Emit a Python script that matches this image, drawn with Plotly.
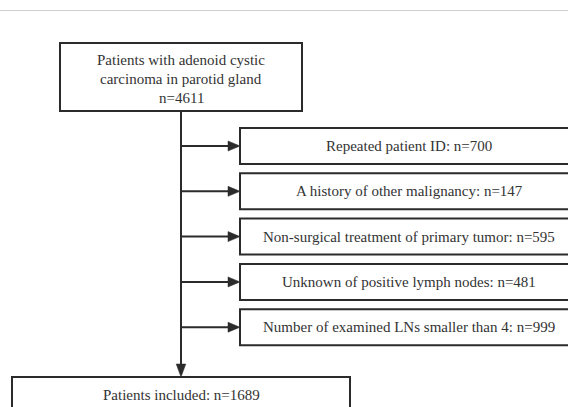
import plotly.graph_objects as go

W, H = 568, 407

top_lines = ["Patients with adenoid cystic", "carcinoma in parotid gland", "n=4611"]
excl_labels = [
    "Repeated patient ID",
    "A history of other malignancy",
    "Non-surgical treatment of primary tumor",
    "Unknown of positive lymph nodes",
    "Number of examined LNs smaller than 4",
]
excl_counts = [700, 147, 595, 481, 999]
final_label = "Patients included"
final_count = 1689

# layout constants (pixels)
TOP_BOX = (60, 43, 302, 111)
SPINE_X = 181
EX_X0, EX_X1 = 240, 578
EX_Y0, EX_H, EX_STEP = 128, 36, 45.3
FIN_BOX = (12, 377, 350, 440)
LINE_C = "#2b2b2b"
TXT_C = "#333333"
FONT = "Liberation Serif, Times New Roman, serif"
FS = 15

fig = go.Figure()
shapes = []
ann = []

def rect(x0, y0, x1, y1):
    shapes.append(dict(type="rect", xref="x", yref="y", x0=x0, y0=y0, x1=x1, y1=y1,
                       line=dict(color=LINE_C, width=2), fillcolor="rgba(0,0,0,0)"))

def line(x0, y0, x1, y1, color=LINE_C, width=2):
    shapes.append(dict(type="line", xref="x", yref="y", x0=x0, y0=y0, x1=x1, y1=y1,
                       line=dict(color=color, width=width)))

def tri_right(xtip, y, L=12, hw=5):
    shapes.append(dict(type="path", xref="x", yref="y",
                       path=f"M{xtip},{y} L{xtip-L},{y-hw} L{xtip-L},{y+hw} Z",
                       fillcolor=LINE_C, line=dict(color=LINE_C, width=0.5)))

def tri_down(x, ytip, L=13, hw=4.8):
    shapes.append(dict(type="path", xref="x", yref="y",
                       path=f"M{x},{ytip} L{x-hw},{ytip-L} L{x+hw},{ytip-L} Z",
                       fillcolor=LINE_C, line=dict(color=LINE_C, width=0.5)))

def text(x, y, s, size=FS):
    ann.append(dict(x=x, y=y, xref="x", yref="y", text=s, showarrow=False,
                    font=dict(family=FONT, size=size, color=TXT_C),
                    xanchor="center", yanchor="middle"))

# thin grey top rule
line(0, 10.5, W, 10.5, color="#cfcfcf", width=1)

# top box
rect(*TOP_BOX)
cx = (TOP_BOX[0] + TOP_BOX[2]) / 2
for i, s in enumerate(top_lines):
    text(cx, 60 + i * 19, s)

# spine
line(SPINE_X, TOP_BOX[3], SPINE_X, FIN_BOX[1] - 6)
tri_down(SPINE_X, FIN_BOX[1])

# exclusion boxes
for i, (lab, n) in enumerate(zip(excl_labels, excl_counts)):
    y0 = EX_Y0 + i * EX_STEP
    y1 = y0 + EX_H
    yc = (y0 + y1) / 2
    rect(EX_X0, y0, EX_X1, y1)
    line(SPINE_X, yc, EX_X0 - 8, yc)
    tri_right(EX_X0, yc)
    text((EX_X0 + EX_X1) / 2, yc, f"{lab}: n={n}")

# final box
rect(*FIN_BOX)
text((FIN_BOX[0] + FIN_BOX[2]) / 2, 395, f"{final_label}: n={final_count}")

fig.update_layout(
    width=W, height=H, autosize=False,
    margin=dict(l=0, r=0, t=0, b=0),
    paper_bgcolor="white", plot_bgcolor="white",
    xaxis=dict(range=[0, W], visible=False, fixedrange=True),
    yaxis=dict(range=[H, 0], visible=False, fixedrange=True),
    shapes=shapes, annotations=ann, showlegend=False,
)
fig.write_html("out.html", config=dict(displayModeBar=False),
               post_script="document.body.style.margin='0';document.body.style.padding='0';document.body.style.overflow='hidden';")
